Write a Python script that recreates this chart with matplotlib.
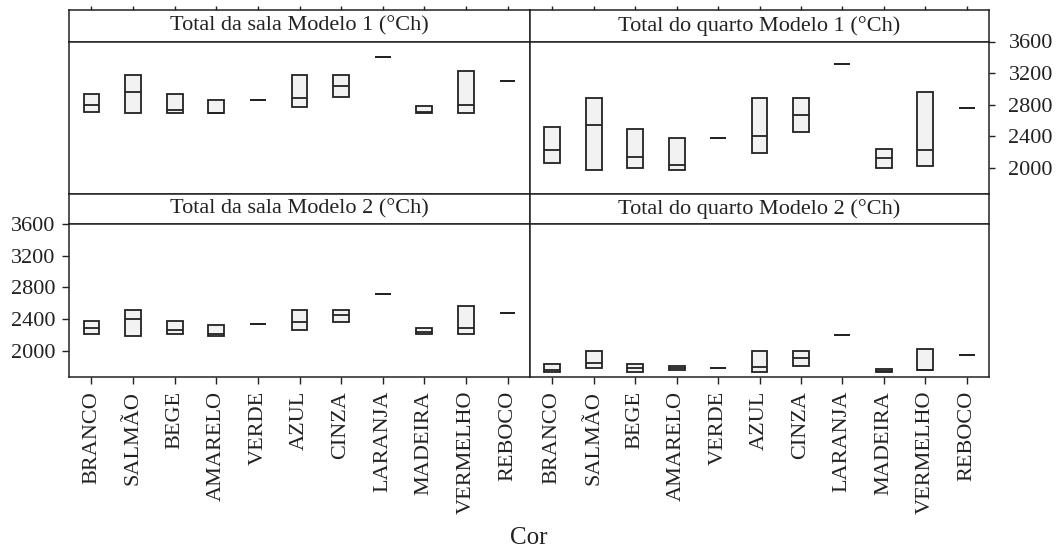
import numpy as np
import matplotlib
matplotlib.use("Agg")
import matplotlib.pyplot as plt

plt.rcParams['font.family'] = ['Liberation Serif', 'DejaVu Serif']

cores = ['BRANCO', 'SALMÃO', 'BEGE', 'AMARELO', 'VERDE', 'AZUL', 'CINZA',
         'LARANJA', 'MADEIRA', 'VERMELHO', 'REBOCO']

# min / mediana / max por cor (°Ch)
sala_m1_min = [2706, 2689, 2689, 2689, 2864, 2766, 2902, 3408, 2689, 2689, 3098]
sala_m1_med = [2791, 2961, 2736, 2689, 2864, 2885, 3030, 3408, 2710, 2791, 3098]
sala_m1_max = [2936, 3174, 2936, 2864, 2864, 3174, 3174, 3408, 2787, 3221, 3098]

quarto_m1_min = [2060, 1966, 1992, 1966, 2380, 2179, 2452, 3314, 1992, 2017, 2760]
quarto_m1_med = [2222, 2546, 2137, 2034, 2380, 2401, 2666, 3314, 2120, 2222, 2760]
quarto_m1_max = [2521, 2879, 2495, 2376, 2380, 2879, 2879, 3314, 2231, 2956, 2760]

sala_m2_min = [2214, 2188, 2214, 2188, 2335, 2260, 2356, 2712, 2214, 2214, 2473]
sala_m2_med = [2281, 2398, 2264, 2205, 2335, 2356, 2448, 2712, 2230, 2281, 2473]
sala_m2_max = [2377, 2515, 2377, 2327, 2335, 2515, 2515, 2712, 2281, 2565, 2473]

quarto_m2_min = [1731, 1778, 1731, 1753, 1778, 1731, 1808, 2196, 1731, 1753, 1949]
quarto_m2_med = [1757, 1842, 1780, 1778, 1778, 1787, 1906, 2196, 1744, 1753, 1949]
quarto_m2_max = [1830, 2000, 1830, 1808, 1778, 2000, 2000, 2196, 1761, 2022, 1949]

titulos = ['Total da sala Modelo 1 (°Ch)', 'Total do quarto Modelo 1 (°Ch)',
           'Total da sala Modelo 2 (°Ch)', 'Total do quarto Modelo 2 (°Ch)']
dados = [(sala_m1_min, sala_m1_med, sala_m1_max),
         (quarto_m1_min, quarto_m1_med, quarto_m1_max),
         (sala_m2_min, sala_m2_med, sala_m2_max),
         (quarto_m2_min, quarto_m2_med, quarto_m2_max)]
yticks = [2000, 2400, 2800, 3200, 3600]

W, H = 1057, 551
fig = plt.figure(figsize=(W / 100, H / 100), dpi=100)


def px(x0, y0, x1, y1):
    return [x0 / W, 1 - y1 / H, (x1 - x0) / W, (y1 - y0) / H]


cor_linha = '#222222'
fs = 16
xs = np.arange(1, len(cores) + 1)
xlim = (0.46, len(cores) + 0.54)
colunas = [(69, 530), (530, 989)]
linhas = [(10, 41.5, 194), (194, 224.3, 377)]

for i, (mn, md, mx) in enumerate(dados):
    r, c = divmod(i, 2)
    x0, x1 = colunas[c]
    ys, yp, yb = linhas[r]

    st = fig.add_axes(px(x0, ys, x1, yp))
    st.set_xlim(xlim)
    st.set_ylim(0, 1)
    st.set_yticks([])
    st.text(0.5, 0.5, titulos[i], transform=st.transAxes, ha='center',
            va='center', fontsize=fs, color=cor_linha)
    if r == 0:
        st.xaxis.tick_top()
        st.set_xticks(xs)
        st.tick_params(axis='x', direction='out', length=3, width=1,
                       labeltop=False, color=cor_linha)
    else:
        st.set_xticks([])
    for s in st.spines.values():
        s.set_linewidth(1.1)
        s.set_color(cor_linha)

    ax = fig.add_axes(px(x0, yp, x1, yb))
    mn, md, mx = np.array(mn), np.array(md), np.array(mx)
    ax.bar(xs, mx - mn, bottom=mn, width=0.38, color='#f2f2f2',
           edgecolor=cor_linha, linewidth=1.3)
    ax.hlines(md, xs - 0.19, xs + 0.19, color=cor_linha, linewidth=1.3)
    ax.set_xlim(xlim)
    ax.set_ylim(1665, 3600)
    for s in ax.spines.values():
        s.set_linewidth(1.1)
        s.set_color(cor_linha)

    if r == 1:
        ax.set_xticks(xs)
        ax.set_xticklabels(cores, rotation=90, fontsize=fs, color=cor_linha)
        ax.tick_params(axis='x', direction='out', length=5, width=1,
                       pad=5, color=cor_linha)
    else:
        ax.set_xticks([])

    if r == 0 and c == 1:
        ax.yaxis.tick_right()
        ax.set_yticks(yticks)
        ax.set_yticklabels([str(v) for v in yticks], fontsize=fs, color=cor_linha)
        ax.tick_params(axis='y', direction='out', length=4, width=1,
                       pad=10, color=cor_linha)
    elif r == 1 and c == 0:
        ax.set_yticks(yticks)
        ax.set_yticklabels([str(v) for v in yticks], fontsize=fs, color=cor_linha)
        ax.tick_params(axis='y', direction='out', length=5, width=1,
                       pad=5, color=cor_linha)
    else:
        ax.set_yticks([])

fig.text(529 / W, 1 - 538 / H, 'Cor', ha='center', va='center',
         fontsize=18, color=cor_linha)

fig.savefig('out.png', dpi=100, facecolor='white')
